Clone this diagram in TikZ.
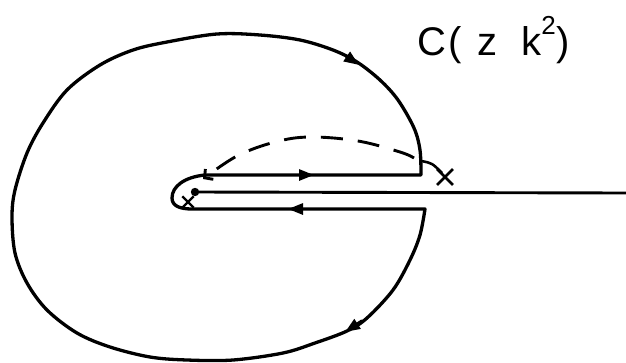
\documentclass[tikz,border=0pt]{standalone}
\usepackage{fontspec}
\setmainfont{Liberation Sans}
\usetikzlibrary{arrows.meta,shapes.misc}
\begin{document}
\begin{tikzpicture}[x=1pt,y=-1pt,
  contour/.style={line width=3.3pt,line join=round,line cap=round},
  cut/.style={line width=2.9pt},
  tip/.style={-{Triangle[length=15pt,width=11pt]}},
  xmark/.style={draw,cross out,line width=2.8pt,inner sep=0pt}]
\useasboundingbox (0,0) rectangle (626,362);
% outer contour
\draw[contour] (205,175) -- (421,175)
  plot[smooth,tension=0.55] coordinates {(421,175) (420,150) (414,128) (398,100) (380,80) (357,62) (333,50) (300,40) (260,35) (217,34) (167,42) (133,50) (100,65) (67,90) (43,123) (27,153) (15,190) (12,217) (15,253) (27,283) (47,310) (77,333) (110,347) (150,357) (187,360) (233,360) (283,353) (315,343) (347,331) (367,318) (393,290) (410,260) (420,235) (425,209)}
  -- (192,209) .. controls (180,209) and (172,206) .. (172,198)
  .. controls (172,186) and (185,177) .. (205,175);
% arrowheads on the contour
\draw[contour,tip] (346,56) -- (359,65);
\draw[contour,tip] (362,321) -- (345,332);
\draw[cut,tip] (290,175) -- (314,175);
\draw[cut,tip] (312,209) -- (288,209);
% cut line
\fill (195,192) circle (4.2pt);
\draw[cut] (195,192) -- (626,193);
% dashed curve
\draw[line width=2.9pt,dash pattern=on 22pt off 15pt,-{Straight Barb[length=6pt,width=13pt]}]
  plot[smooth,tension=0.6] coordinates {(414,158) (400,152) (358,141) (310,137) (275,142) (237,156) (203,179)};
\draw[line width=2.6pt] (421,161) .. controls (432,163) .. (442,173);
\node[xmark,minimum size=13pt] (x1) at (445,177) {};
\node[xmark,minimum size=9pt,line width=2.4pt] (x2) at (188,202) {};
% label
\node[anchor=base west,inner sep=0pt,font=\fontsize{40}{40}\selectfont] (lab) at (417,55)
  {C\kern2pt(\kern16pt z\kern24pt k\raisebox{21pt}{\fontsize{26}{26}\selectfont 2}\kern1pt)};
\end{tikzpicture}
\end{document}
